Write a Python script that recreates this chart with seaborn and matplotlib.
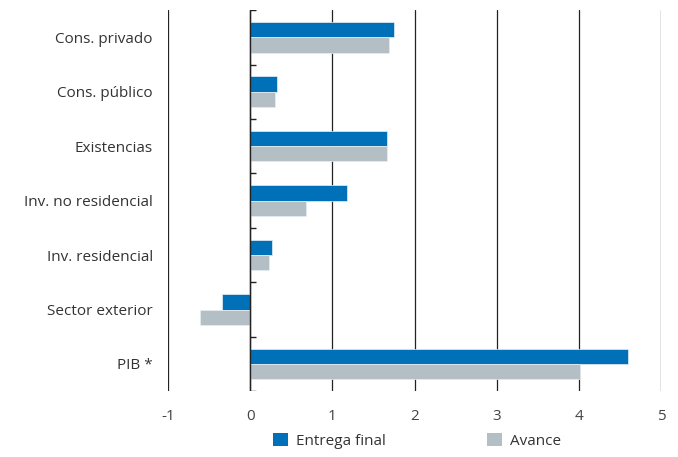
import seaborn as sns
import numpy as np
import pandas as pd
import matplotlib.pyplot as plt
from matplotlib.patches import Patch

categorias = ["Cons. privado", "Cons. público", "Existencias", "Inv. no residencial",
              "Inv. residencial", "Sector exterior", "PIB *"]
entrega_final = [1.75, 0.32, 1.67, 1.18, 0.27, -0.34, 4.60]
avance = [1.69, 0.30, 1.67, 0.68, 0.23, -0.61, 4.01]
series = ["Entrega final", "Avance"]
colores = ["#0070b8", "#b3bfc4"]
x_ticks = [-1, 0, 1, 2, 3, 4, 5]

df = pd.DataFrame({
    "categoria": categorias * 2,
    "valor": entrega_final + avance,
    "serie": [series[0]] * len(categorias) + [series[1]] * len(categorias),
})

sns.set_style("white")
plt.rcParams["font.family"] = ["Open Sans", "DejaVu Sans"]

fig = plt.figure(figsize=(6.78, 4.57), dpi=100)
ax = fig.add_axes([0.248, 0.144, 0.727, 0.834])

sns.barplot(data=df, y="categoria", x="valor", hue="serie", order=categorias,
            hue_order=series, palette=colores, orient="h", width=0.56,
            saturation=1, ax=ax, legend=False, zorder=2, edgecolor="#e6eef4", linewidth=0.5)

ax.set_xlim(-1, 5)
ax.set_ylim(6.5, -0.5)
ax.set_xticks(x_ticks)
ax.set_xticklabels([str(t) for t in x_ticks], color="#444444", fontsize=11)
ax.xaxis.grid(True, color="#222222", linewidth=0.9, zorder=1)
ax.set_axisbelow(True)
for s in ax.spines.values():
    s.set_visible(False)
ax.tick_params(axis="x", length=0, pad=13)
ax.tick_params(axis="y", length=0, pad=11)
ax.set_yticklabels(categorias, color="#333333", fontsize=11)
ax.set_xlabel("")
ax.set_ylabel("")

# eje del cero con marcas entre categorías
ax.axvline(0, color="#222222", linewidth=1.0, zorder=3)
ax.hlines(np.arange(-0.5, len(categorias)), 0, 0.07, color="#222222", linewidth=1.0, zorder=3)

handles = [Patch(facecolor=c, edgecolor="none") for c in colores]
fig.legend(handles, series, loc="lower center", bbox_to_anchor=(0.615, -0.012), ncol=2,
           frameon=False, fontsize=11, handlelength=1.0, handleheight=1.0,
           columnspacing=6.6, handletextpad=0.5, labelcolor="#333333")

fig.savefig("out.png", dpi=100)
